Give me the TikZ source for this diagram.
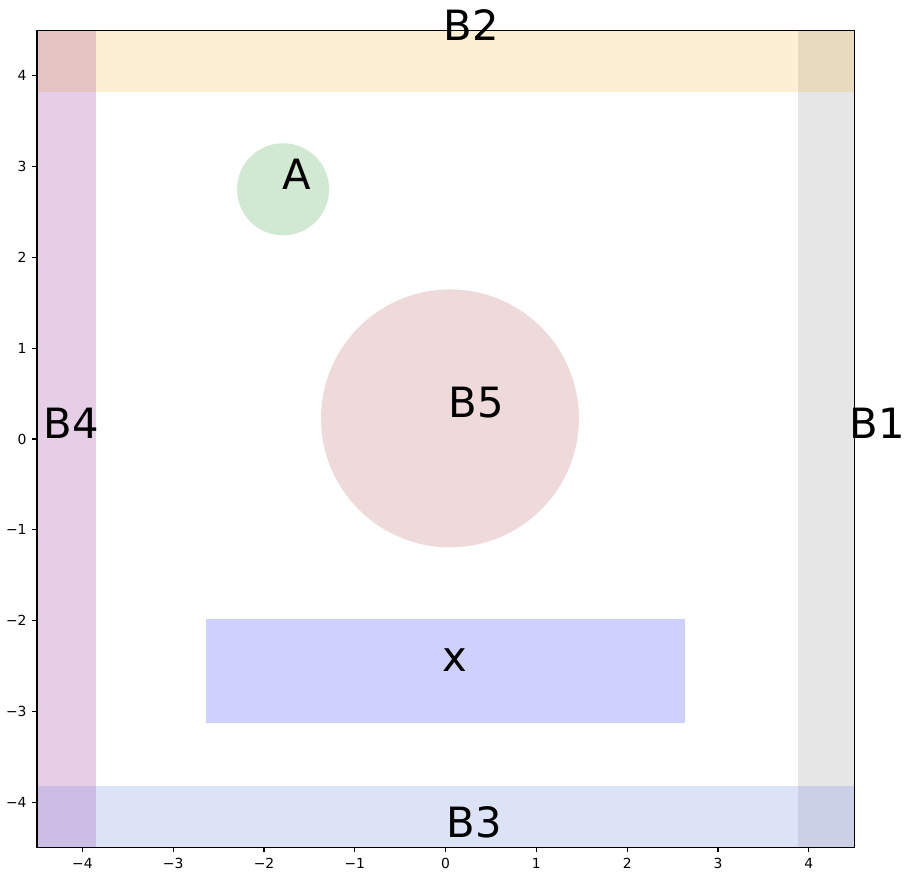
\documentclass[tikz,border=0pt]{standalone}
\usepackage{fontspec}
\setmainfont{DejaVu Sans}
\definecolor{cB4}{RGB}{230,207,230}
\definecolor{cB2}{RGB}{253,239,211}
\definecolor{cB1}{RGB}{230,230,230}
\definecolor{cB3}{RGB}{221,227,247}
\definecolor{cTL}{RGB}{230,196,196}
\definecolor{cTR}{RGB}{232,219,189}
\definecolor{cBL}{RGB}{203,189,230}
\definecolor{cBR}{RGB}{203,208,230}
\definecolor{cA}{RGB}{209,232,210}
\definecolor{cB5}{RGB}{239,218,219}
\definecolor{cX}{RGB}{208,208,254}
\tikzset{
  biglabel/.style={anchor=base west, inner sep=0pt, font=\fontsize{41.7}{48}\selectfont},
  ticklab/.style={inner sep=0pt, font=\fontsize{13.9}{16}\selectfont},
  tickmark/.style={line width=1.1pt},
  frame/.style={line width=1.1pt}
}
\begin{document}
\begin{tikzpicture}[x=1pt,y=1pt]
\useasboundingbox (0,0) rectangle (913,879);
\fill[white] (0,0) rectangle (913,879);
\begin{scope}[shift={(445.6,440)}, x=90.8pt, y=90.8pt]
  % strips
  \fill[cB4] (-4.5,-3.825) rectangle (-3.854,3.82);
  \fill[cB1] (3.884,-3.825) rectangle (4.5,3.82);
  \fill[cB2] (-3.854,3.82) rectangle (3.884,4.5);
  \fill[cB3] (-3.854,-4.5) rectangle (3.884,-3.825);
  \fill[cTL] (-4.5,3.82) rectangle (-3.854,4.5);
  \fill[cTR] (3.884,3.82) rectangle (4.5,4.5);
  \fill[cBL] (-4.5,-4.5) rectangle (-3.854,-3.825);
  \fill[cBR] (3.884,-4.5) rectangle (4.5,-3.825);
  % shapes
  \fill[cA] (-1.79,2.75) circle (0.507);
  \fill[cB5] (0.048,0.227) circle (1.42);
  \fill[cX] (-2.64,-3.13) rectangle (2.637,-1.987);
  % frame
  \draw[frame] (-4.5,-4.5) rectangle (4.5,4.5);
  % ticks
  \foreach \v/\t in {-4/−4,-3/−3,-2/−2,-1/−1,0/0,1/1,2/2,3/3,4/4} {
    \draw[tickmark] (\v,-4.5) -- ++(0,-4.86pt);
    \node[ticklab, anchor=base] (xt\v) at ([yshift=-20.4pt]\v,-4.5) {\t};
    \draw[tickmark] (-4.5,\v) -- ++(-4.86pt,0);
    \node[ticklab, anchor=base east] (yt\v) at ([xshift=-10.3pt,yshift=-5.07pt]-4.5,\v) {\t};
  }
\end{scope}
\node[biglabel] (lB5) at (448.6,461) {B5};
\node[biglabel] (lA) at (282.4,689) {A};
\node[biglabel] (lx) at (442,208) {x};
\node[biglabel] (lB4) at (43.2,440.5) {B4};
\node[biglabel] (lB1) at (849.2,440.5) {B1};
\node[biglabel] (lB2) at (443.2,838.7) {B2};
\node[biglabel] (lB3) at (446.6,41.7) {B3};
\end{tikzpicture}
\end{document}
